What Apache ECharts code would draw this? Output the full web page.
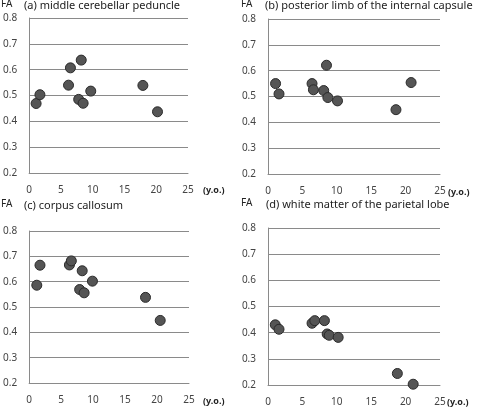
<!DOCTYPE html>
<html><head><meta charset="utf-8">
<script src="https://cdn.jsdelivr.net/npm/echarts@6/dist/echarts.min.js"></script>
<style>html,body{margin:0;padding:0;background:#fff}#c{width:480px;height:407px}</style>
</head><body><div id="c"></div>
<script>
const titles = ['(a) middle cerebellar peduncle','(b) posterior limb of the internal capsule','(c) corpus callosum','(d) white matter of the parietal lobe'];
const xTicks = [0,5,10,15,20,25];
const yTicks = [0.2,0.3,0.4,0.5,0.6,0.7,0.8];
const ageA = [1.1,1.7,6.2,6.5,7.8,8.2,8.5,9.7,17.9,20.2];
const faA  = [0.469,0.503,0.540,0.607,0.485,0.637,0.470,0.517,0.539,0.437];
const ageB = [1.1,1.6,6.4,6.6,8.1,8.5,8.7,10.1,18.6,20.8];
const faB  = [0.550,0.510,0.550,0.526,0.523,0.621,0.496,0.483,0.449,0.554];
const ageC = [1.2,1.7,6.3,6.6,7.9,8.3,8.6,9.9,18.2,20.5];
const faC  = [0.586,0.665,0.666,0.682,0.569,0.643,0.556,0.602,0.538,0.447];
const ageD = [1.06,1.6,6.4,6.8,8.2,8.6,8.9,10.2,18.8,21.1];
const faD  = [0.430,0.413,0.436,0.446,0.446,0.395,0.390,0.382,0.244,0.203];
const sets = [[ageA,faA],[ageB,faB],[ageC,faC],[ageD,faD]];

const grids = [
  {left:25, top:18, width:163, height:155},
  {left:268, top:19, width:172, height:155},
  {left:25, top:231, width:164, height:152},
  {left:268, top:228, width:172, height:157}
];
const titlePos = [[24,0],[265,0],[24,200],[266,199]];
const faPos = [[1,-1],[241,-1],[1,199],[241,198]];
const yoPos = [[203,186],[448,188],[203,397],[447,398]];
const font = 'Noto Sans';

const option = {
  animation:false,
  grid: grids,
  xAxis: grids.map((g,i)=>({type:'value',gridIndex:i,min:0,max:25,interval:5,
    axisLine:{show:true,lineStyle:{color:'#8a8a8a',width:1}},axisTick:{show:false},splitLine:{show:false},
    axisLabel:{fontFamily:font,fontSize:10,color:'#444',margin:12}})),
  yAxis: grids.map((g,i)=>({type:'value',gridIndex:i,min:0.2,max:0.8,interval:0.1,
    axisLine:{show:true,lineStyle:{color:'#8a8a8a',width:1}},axisTick:{show:false},
    splitLine:{show:true,lineStyle:{color:'#8a8a8a',width:1}},
    axisLabel:{fontFamily:font,fontSize:10,color:'#444',margin:12,formatter:v=>v.toFixed(1)}})),
  graphic: [
    ...titles.map((t,i)=>({type:'text',left:titlePos[i][0],top:titlePos[i][1],style:{text:t,font:'11px "Noto Sans"',fill:'#222'}})),
    ...faPos.map(p=>({type:'text',left:p[0],top:p[1],style:{text:'FA',font:'10px "Noto Sans"',fill:'#222'}})),
    ...yoPos.map(p=>({type:'text',left:p[0],top:p[1],style:{text:'(y.o.)',font:'bold 9px "Noto Sans"',fill:'#222'}}))
  ],
  series: sets.map((s,i)=>({type:'scatter',xAxisIndex:i,yAxisIndex:i,symbolSize:10,
    data:s[0].map((x,j)=>[x,s[1][j]]),
    itemStyle:{color:'#555555',borderColor:'#2a2a2a',borderWidth:1,opacity:1}}))
};
echarts.init(document.getElementById('c')).setOption(option);
</script></body></html>
